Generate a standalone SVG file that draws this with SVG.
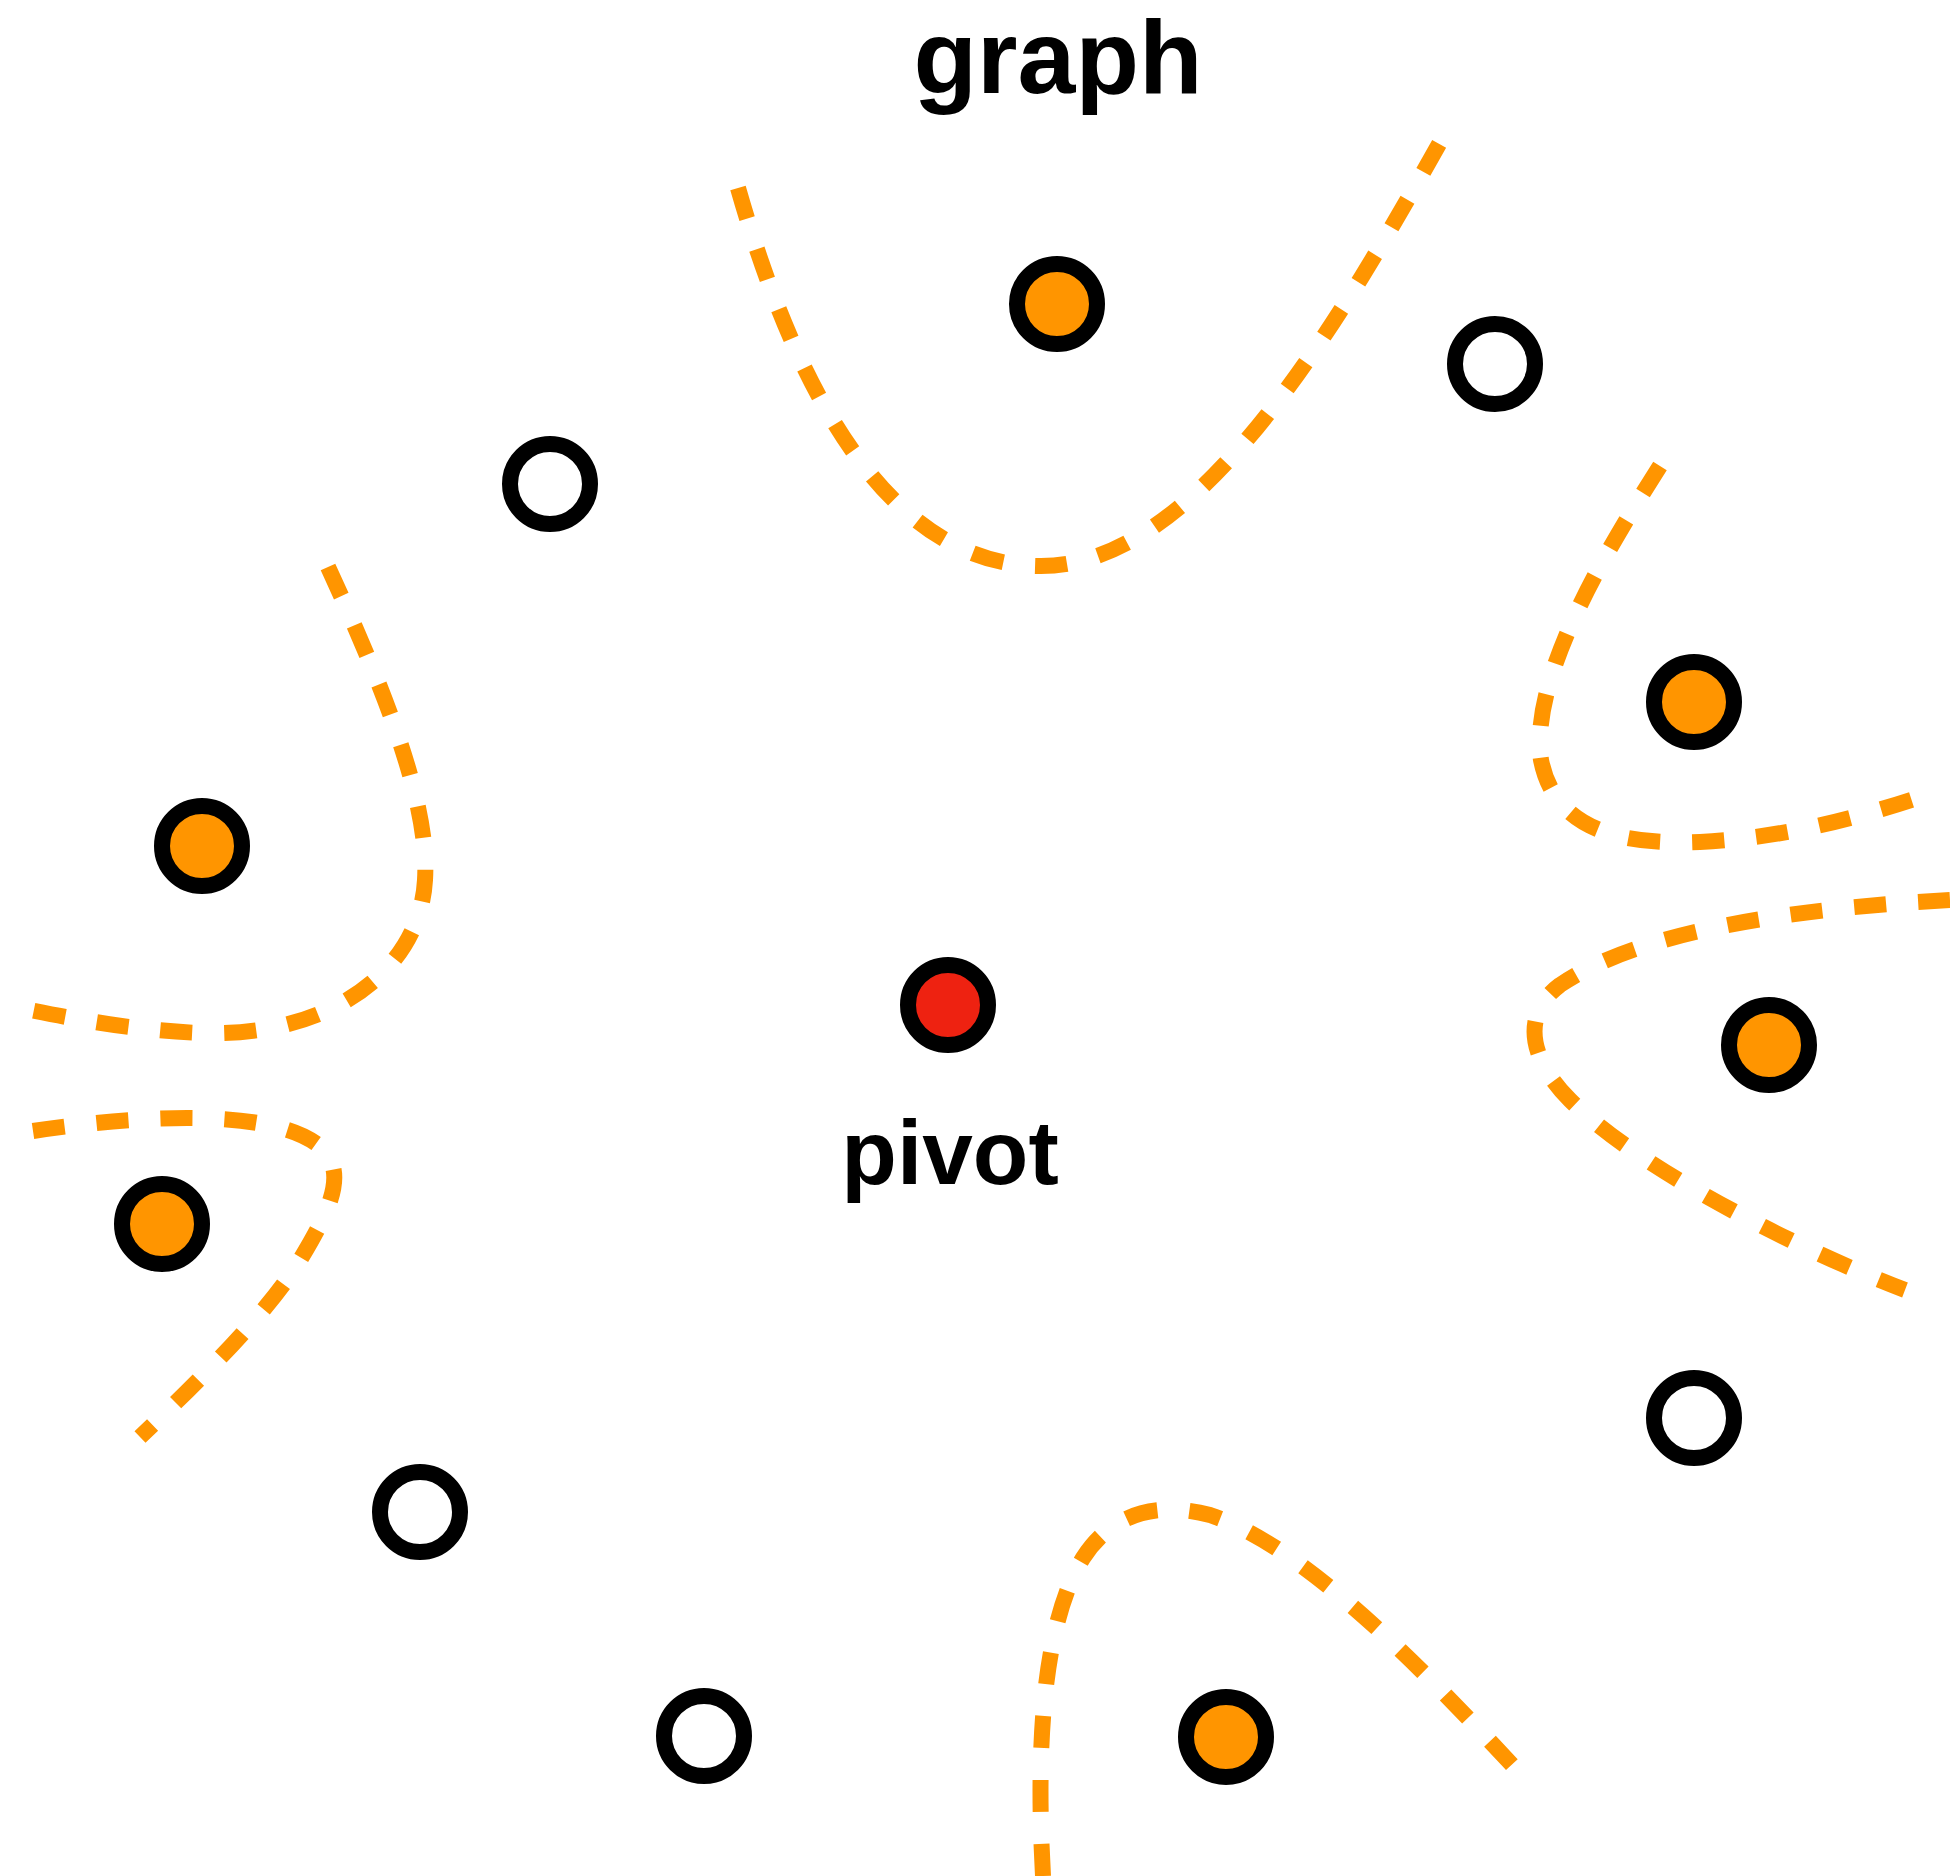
<svg xmlns="http://www.w3.org/2000/svg" width="1950" height="1876" viewBox="0 0 1950 1876">
<style>
.node{stroke:#000;stroke-width:16}
.hollow{fill:#fff}
.sel{fill:#ff9500}
.pivot{fill:#ee2211}
.cut{fill:none;stroke:#ff9500;stroke-width:16;stroke-dasharray:32 32}
.lbl{font-family:"Liberation Sans",Arial,sans-serif;font-weight:bold;fill:#000;text-anchor:middle}
</style>
<rect width="1950" height="1876" fill="#fff"/>
<text class="lbl" x="1058" y="93" font-size="104">graph</text>
<g id="connectors">
<path class="cut" d="M738,188 C790,370 880,565 1040,566 C1200,567 1340,320 1447,130"/>
<path class="cut" d="M328,567 C380,680 430,800 425,880 C420,970 330,1038 200,1033 C130,1030 70,1018 30,1010"/>
<path class="cut" d="M33,1131 C140,1115 270,1108 318,1145 C350,1170 330,1210 300,1260 C270,1310 200,1380 140,1437"/>
<path class="cut" d="M1660,466 C1600,560 1530,680 1541,760 C1555,830 1620,845 1700,842 C1780,838 1850,820 1917,798"/>
<path class="cut" d="M1950,900 C1800,908 1640,930 1560,985 C1520,1015 1530,1060 1570,1100 C1640,1170 1800,1250 1905,1290"/>
<path class="cut" d="M1043,1876 C1036,1750 1042,1625 1083,1558 C1115,1508 1165,1503 1210,1515 C1300,1545 1410,1655 1515,1768"/>
</g>
<g id="n1"><circle class="node sel" cx="1057" cy="304" r="40"/></g>
<g id="n2"><circle class="node hollow" cx="1495" cy="364" r="40"/></g>
<g id="n3"><circle class="node hollow" cx="550" cy="484" r="40"/></g>
<g id="n4"><circle class="node sel" cx="1694" cy="702" r="40"/></g>
<g id="n5"><circle class="node sel" cx="202" cy="846" r="40"/></g>
<g id="pivot"><circle class="node pivot" cx="948" cy="1005" r="40"/><text class="lbl" x="950" y="1184" font-size="91">pivot</text></g>
<g id="n6"><circle class="node sel" cx="1769" cy="1045" r="40"/></g>
<g id="n7"><circle class="node sel" cx="162" cy="1224" r="40"/></g>
<g id="n8"><circle class="node hollow" cx="1694" cy="1418" r="40"/></g>
<g id="n9"><circle class="node hollow" cx="420" cy="1512" r="40"/></g>
<g id="n10"><circle class="node hollow" cx="704" cy="1736" r="40"/></g>
<g id="n11"><circle class="node sel" cx="1226" cy="1737" r="40"/></g>
</svg>
